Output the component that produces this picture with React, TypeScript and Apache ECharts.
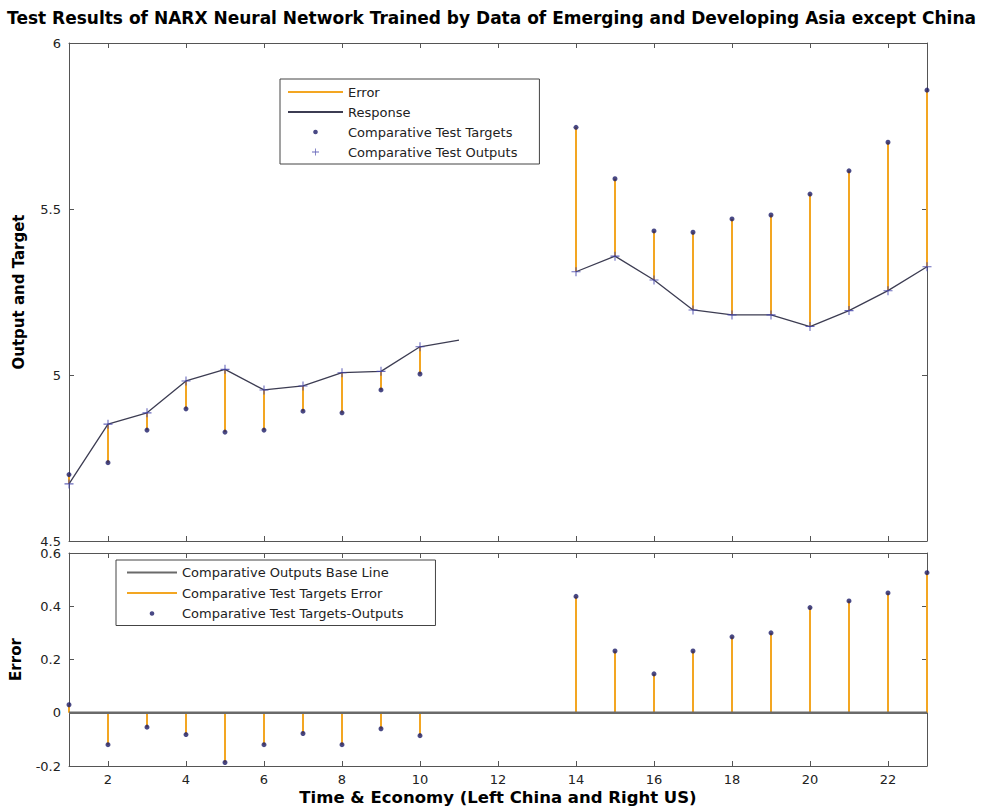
import React, { useEffect, useRef } from "react";
import * as echarts from "echarts";

// ---- data ----
const chinaSteps = [1, 2, 3, 4, 5, 6, 7, 8, 9, 10];
const chinaTargets = [4.7, 4.736, 4.834, 4.898, 4.828, 4.834, 4.891, 4.886, 4.955, 5.003];
const chinaOutputs = [4.672, 4.852, 4.886, 4.982, 5.017, 4.955, 4.967, 5.007, 5.011, 5.085];
const chinaTailStep = 11;
const chinaTailOutput = 5.105;
const chinaErrors = [0.03, -0.12, -0.054, -0.082, -0.187, -0.12, -0.078, -0.12, -0.06, -0.086];

const usSteps = [14, 15, 16, 17, 18, 19, 20, 21, 22, 23];
const usTargets = [5.746, 5.591, 5.434, 5.43, 5.47, 5.482, 5.545, 5.615, 5.701, 5.858];
const usOutputs = [5.311, 5.358, 5.286, 5.196, 5.181, 5.181, 5.146, 5.194, 5.254, 5.326];
const usErrors = [0.437, 0.232, 0.146, 0.232, 0.285, 0.3, 0.395, 0.42, 0.45, 0.526];

const xRange = [1, 23];
const xTickValues = [2, 4, 6, 8, 10, 12, 14, 16, 18, 20, 22];
const outputTicks = [4.5, 5, 5.5, 6];
const errorTicks = [-0.2, 0, 0.2, 0.4, 0.6];

const TITLE = "Test Results of NARX Neural Network Trained by Data of Emerging and Developing Asia except China";
const X_NAME = "Time & Economy (Left China and Right US)";

// ---- styles ----
const FRAME = "#555";
const ERR_COLOR = "#F3A622";
const DOT_COLOR = "#1c1c66";
const PLUS_COLOR = "#4444aa";
const RESP_COLOR = "#3c3c52";
const FONT = "DejaVu Sans";
const PLUS = "path://M4.4,0H5.6V4.4H10V5.6H5.6V10H4.4V5.6H0V4.4H4.4Z";
const PLUS_ICON = "path://M3.1,0H3.9V3.1H7V3.9H3.9V7H3.1V3.9H0V3.1H3.1Z";
const DOT_ICON = "path://M0,0L0.001,0ZM7,7L6.999,7ZM3.5,1.2A2.3,2.3,0,1,1,3.499,1.2Z";

const GAP = ["-", "-"];

function stems(steps: number[], from: number[] | number, to: number[]) {
  const out: any[] = [];
  steps.forEach((x, i) => {
    const a = typeof from === "number" ? from : from[i];
    out.push([x, a], [x, to[i]], GAP);
  });
  return out;
}

function xAxisDef(gridIndex: number, position: "top" | "bottom", labels: boolean, name?: string) {
  return {
    type: "value",
    gridIndex,
    position,
    min: xRange[0],
    max: xRange[1],
    name: name || "",
    nameLocation: "middle",
    nameGap: 23,
    nameTextStyle: { fontFamily: FONT, fontWeight: "bold", fontSize: 16.5, color: "#000" },
    axisLine: { show: true, onZero: false, lineStyle: { color: FRAME, width: 1 } },
    axisTick: { show: true, inside: true, length: 5, customValues: xTickValues, lineStyle: { color: FRAME } },
    axisLabel: { show: labels, customValues: xTickValues, fontFamily: FONT, fontSize: 13, color: "#222", margin: 7 },
    splitLine: { show: false },
  };
}

function yAxisDef(gridIndex: number, position: "left" | "right", ticks: number[], labels: boolean, name?: string, nameGap?: number) {
  return {
    type: "value",
    gridIndex,
    position,
    min: ticks[0],
    max: ticks[ticks.length - 1],
    interval: ticks[1] - ticks[0],
    name: name || "",
    nameLocation: "middle",
    nameRotate: 90,
    nameGap: nameGap || 0,
    nameTextStyle: { fontFamily: FONT, fontWeight: "bold", fontSize: 15, color: "#000" },
    axisLine: { show: true, onZero: false, lineStyle: { color: FRAME, width: 1 } },
    axisTick: { show: true, inside: true, length: 5, lineStyle: { color: FRAME } },
    axisLabel: { show: labels, fontFamily: FONT, fontSize: 13, color: "#222", margin: 8 },
    splitLine: { show: false },
  };
}

const responseData = [
  ...chinaSteps.map((x, i) => [x, chinaOutputs[i]]),
  [chinaTailStep, chinaTailOutput],
  GAP,
  ...usSteps.map((x, i) => [x, usOutputs[i]]),
];

const hiddenSymbol = { opacity: 0 };

const option: any = {
  animation: false,
  backgroundColor: "#fff",
  title: {
    text: TITLE,
    left: "center",
    top: 4,
    textStyle: { fontFamily: FONT, fontWeight: "bold", fontSize: 17, color: "#000" },
  },
  grid: [
    { left: 69, top: 43, width: 858, height: 498 },
    { left: 69, top: 553, width: 858, height: 214 },
  ],
  xAxis: [
    xAxisDef(0, "bottom", false),
    xAxisDef(0, "top", false),
    xAxisDef(1, "bottom", true, X_NAME),
    xAxisDef(1, "top", false),
  ],
  yAxis: [
    yAxisDef(0, "left", outputTicks, true, "Output and Target", 43),
    yAxisDef(0, "right", outputTicks, false),
    yAxisDef(1, "left", errorTicks, true, "Error", 46),
    yAxisDef(1, "right", errorTicks, false),
  ],
  legend: [
    {
      orient: "vertical",
      left: 280,
      top: 79,
      itemWidth: 55,
      itemHeight: 7,
      itemGap: 6,
      padding: [6, 22, 5, 7],
      borderColor: "#444",
      borderWidth: 1,
      backgroundColor: "#fff",
      selectedMode: false,
      textStyle: { fontFamily: FONT, fontSize: 13, lineHeight: 14, color: "#222" },
      data: [
        { name: "Error", itemStyle: hiddenSymbol },
        { name: "Response", itemStyle: hiddenSymbol },
        { name: "Comparative Test Targets", icon: DOT_ICON },
        { name: "Comparative Test Outputs", icon: PLUS_ICON },
      ],
    },
    {
      orient: "vertical",
      left: 116,
      top: 560,
      itemWidth: 50,
      itemHeight: 7,
      itemGap: 6.5,
      padding: [5.5, 32, 5, 10],
      borderColor: "#444",
      borderWidth: 1,
      backgroundColor: "#fff",
      selectedMode: false,
      textStyle: { fontFamily: FONT, fontSize: 13, lineHeight: 14, color: "#222" },
      data: [
        { name: "Comparative Outputs Base Line", itemStyle: hiddenSymbol },
        { name: "Comparative Test Targets Error", itemStyle: hiddenSymbol },
        { name: "Comparative Test Targets-Outputs", icon: DOT_ICON },
      ],
    },
  ],
  series: [
    {
      name: "Error",
      type: "line",
      xAxisIndex: 0,
      yAxisIndex: 0,
      symbol: "none",
      connectNulls: false,
      lineStyle: { color: ERR_COLOR, width: 2 },
      itemStyle: { color: ERR_COLOR },
      data: [...stems(chinaSteps, chinaOutputs, chinaTargets), ...stems(usSteps, usOutputs, usTargets)],
      z: 2,
    },
    {
      name: "Response",
      type: "line",
      xAxisIndex: 0,
      yAxisIndex: 0,
      symbol: "none",
      connectNulls: false,
      lineStyle: { color: RESP_COLOR, width: 1.3 },
      itemStyle: { color: RESP_COLOR },
      data: responseData,
      z: 3,
    },
    {
      name: "Comparative Test Targets",
      type: "scatter",
      xAxisIndex: 0,
      yAxisIndex: 0,
      symbol: "circle",
      symbolSize: 5,
      clip: false,
      itemStyle: { color: DOT_COLOR },
      data: [
        ...chinaSteps.map((x, i) => [x, chinaTargets[i]]),
        ...usSteps.map((x, i) => [x, usTargets[i]]),
      ],
      z: 4,
    },
    {
      name: "Comparative Test Outputs",
      type: "scatter",
      xAxisIndex: 0,
      yAxisIndex: 0,
      symbol: PLUS,
      symbolSize: 9,
      clip: false,
      itemStyle: { color: PLUS_COLOR },
      data: [
        ...chinaSteps.map((x, i) => [x, chinaOutputs[i]]),
        ...usSteps.map((x, i) => [x, usOutputs[i]]),
      ],
      z: 5,
    },
    {
      name: "Comparative Test Targets Error",
      type: "line",
      xAxisIndex: 2,
      yAxisIndex: 2,
      symbol: "none",
      connectNulls: false,
      lineStyle: { color: ERR_COLOR, width: 2 },
      itemStyle: { color: ERR_COLOR },
      data: [...stems(chinaSteps, 0, chinaErrors), ...stems(usSteps, 0, usErrors)],
      z: 2,
    },
    {
      name: "Comparative Outputs Base Line",
      type: "line",
      xAxisIndex: 2,
      yAxisIndex: 2,
      symbol: "none",
      lineStyle: { color: "#6a6a6a", width: 2.5 },
      itemStyle: { color: "#6a6a6a" },
      data: [[xRange[0], 0], [xRange[1], 0]],
      z: 3,
    },
    {
      name: "Comparative Test Targets-Outputs",
      type: "scatter",
      xAxisIndex: 2,
      yAxisIndex: 2,
      symbol: "circle",
      symbolSize: 5,
      clip: false,
      itemStyle: { color: DOT_COLOR },
      data: [
        ...chinaSteps.map((x, i) => [x, chinaErrors[i]]),
        ...usSteps.map((x, i) => [x, usErrors[i]]),
      ],
      z: 4,
    },
  ],
};

export default function App() {
  const ref = useRef<HTMLDivElement>(null);
  useEffect(() => {
    const chart = echarts.init(ref.current as HTMLDivElement, null, { renderer: "svg" });
    chart.setOption(option);
    return () => chart.dispose();
  }, []);
  return (
    <div
      ref={ref}
      style={{ position: "absolute", left: 0, top: 0, width: 983, height: 807, background: "#fff" }}
    />
  );
}
